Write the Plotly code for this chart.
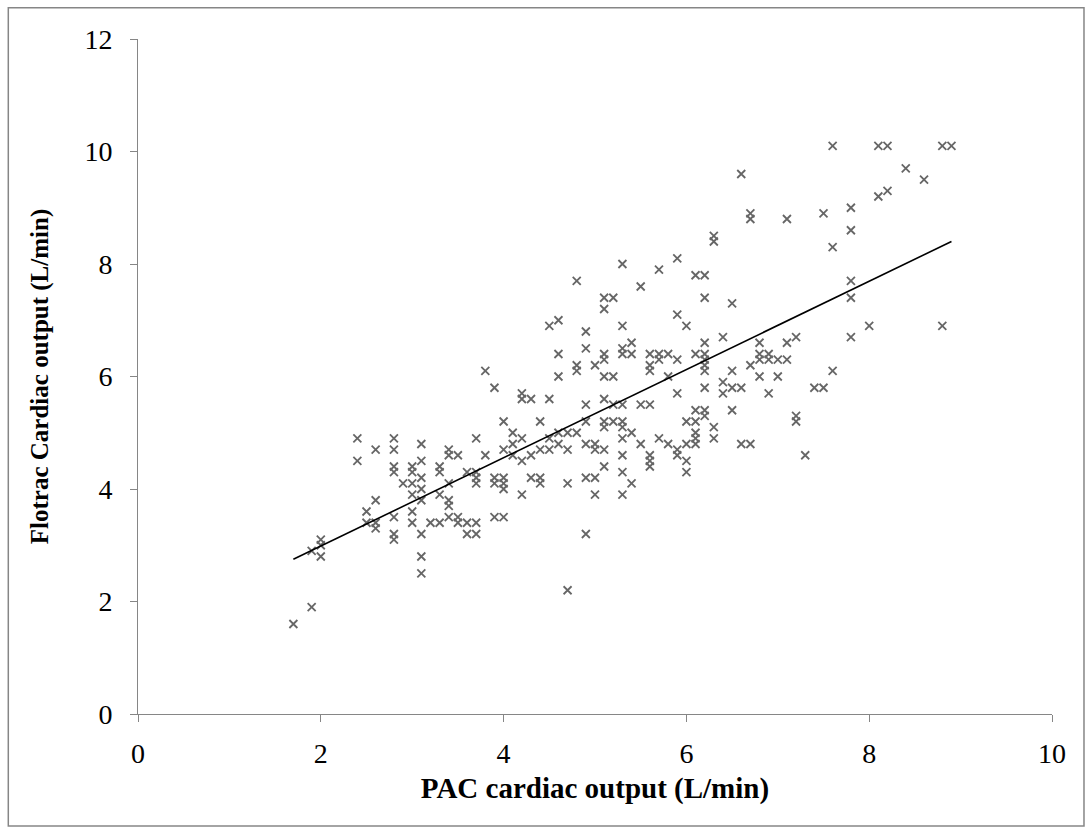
import numpy as np
import plotly.graph_objects as go

# PAC cardiac output (x) -> list of Flotrac values (y) at that x
pac_values = [1.7, 1.9, 2.0, 2.4, 2.5, 2.6, 2.8, 2.9, 3.0, 3.1, 3.2, 3.3, 3.4, 3.5, 3.6, 3.7,
              3.8, 3.9, 4.0, 4.1, 4.2, 4.3, 4.4, 4.5, 4.6, 4.7, 4.8, 4.9, 5.0, 5.1, 5.2, 5.3,
              5.4, 5.5, 5.6, 5.7, 5.8, 5.9, 6.0, 6.1, 6.2, 6.3, 6.4, 6.5, 6.6, 6.7, 6.8, 6.9,
              7.0, 7.1, 7.2, 7.3, 7.4, 7.5, 7.6, 7.8, 8.0, 8.1, 8.2, 8.4, 8.6, 8.8, 8.9]
flotrac_values = [
    [1.6],
    [2.9, 1.9],
    [3.1, 3.0, 2.8],
    [4.9, 4.5],
    [3.6, 3.4],
    [4.7, 3.8, 3.4, 3.3],
    [4.9, 4.7, 4.4, 4.3, 3.5, 3.2, 3.1],
    [4.1],
    [4.4, 4.3, 4.1, 3.9, 3.6, 3.4],
    [4.8, 4.5, 4.2, 4.0, 3.8, 3.2, 2.8, 2.5],
    [3.4],
    [4.4, 4.3, 3.9, 3.4],
    [4.7, 4.6, 4.1, 3.8, 3.7, 3.5],
    [4.6, 3.5, 3.4],
    [4.3, 3.4, 3.2],
    [4.9, 4.3, 4.2, 4.1, 3.4, 3.2],
    [6.1, 4.6],
    [5.8, 4.2, 4.1, 3.5],
    [5.2, 4.7, 4.2, 4.1, 4.0, 3.5],
    [5.0, 4.8, 4.6],
    [5.7, 5.6, 4.9, 4.5, 3.9],
    [5.6, 4.6, 4.2],
    [5.2, 4.7, 4.2, 4.1],
    [6.9, 5.6, 4.9, 4.7],
    [7.0, 6.4, 6.0, 5.0, 4.8],
    [5.0, 4.7, 4.1, 2.2],
    [7.7, 6.2, 6.1, 5.0],
    [6.8, 6.5, 5.5, 5.2, 4.8, 4.2, 3.2],
    [6.2, 4.8, 4.7, 4.2, 3.9],
    [7.4, 7.2, 6.4, 6.3, 6.0, 5.6, 5.2, 5.1, 4.7, 4.4],
    [7.4, 6.0, 5.5, 5.2],
    [8.0, 6.9, 6.5, 6.4, 5.5, 5.2, 5.1, 4.9, 4.6, 4.3, 3.9],
    [6.6, 6.4, 5.0, 4.1],
    [7.6, 5.5, 4.8],
    [6.4, 6.2, 6.1, 5.5, 4.6, 4.5, 4.4],
    [7.9, 6.4, 6.3, 4.9],
    [6.4, 6.0, 4.8],
    [8.1, 7.1, 6.3, 5.7, 4.7, 4.6],
    [6.9, 5.2, 4.8, 4.5, 4.3],
    [7.8, 6.4, 5.4, 5.2, 5.0, 4.9, 4.8],
    [7.8, 7.4, 6.6, 6.4, 6.3, 6.2, 6.1, 5.8, 5.4, 5.3],
    [8.5, 8.4, 5.1, 4.9],
    [6.7, 5.9, 5.7],
    [7.3, 6.1, 5.8, 5.4],
    [9.6, 5.8, 4.8],
    [8.9, 8.8, 6.2, 4.8],
    [6.6, 6.4, 6.3, 6.0],
    [6.4, 6.3, 5.7],
    [6.3, 6.0],
    [8.8, 6.6, 6.3],
    [6.7, 5.3, 5.2],
    [4.6],
    [5.8],
    [8.9, 5.8],
    [10.1, 8.3, 6.1],
    [9.0, 8.6, 7.7, 7.4, 6.7],
    [6.9],
    [10.1, 9.2],
    [10.1, 9.3],
    [9.7],
    [9.5],
    [10.1, 6.9],
    [10.1],
]

# Linear trendline as drawn in the reference (end points)
trend_x = [1.7, 8.9]
trend_y = [2.75, 8.4]

x_ticks = [0, 2, 4, 6, 8, 10]
y_ticks = [0, 2, 4, 6, 8, 10, 12]
x_title = "PAC cardiac output (L/min)"
y_title = "Flotrac Cardiac output (L/min)"

xs, ys = [], []
for xv, yl in zip(pac_values, flotrac_values):
    for yv in yl:
        xs.append(xv)
        ys.append(yv)

fig = go.Figure()
fig.add_trace(go.Scatter(
    x=xs, y=ys, mode="markers",
    marker=dict(symbol="x-thin-open", size=8, color="#666666",
                line=dict(color="#666666", width=1.8)),
    showlegend=False, hoverinfo="x+y"))
fig.add_trace(go.Scatter(
    x=trend_x, y=trend_y, mode="lines",
    line=dict(color="black", width=1.6),
    showlegend=False, hoverinfo="skip"))

font_family = "Liberation Serif, Times New Roman, serif"
axis_common = dict(
    showgrid=False, zeroline=False, showline=True, linecolor="#868686", linewidth=1,
    ticks="outside", ticklen=7, tickcolor="#868686", tickwidth=1,
    tickfont=dict(family=font_family, size=28, color="black"),
)
fig.update_xaxes(range=[0, 10], tickvals=x_ticks, ticktext=[str(t) for t in x_ticks],
                 title=dict(text="<b>" + x_title + "</b>", standoff=10,
                            font=dict(family=font_family, size=29, color="black")),
                 ticklabelstandoff=7, **axis_common)
fig.update_yaxes(range=[0, 12], tickvals=y_ticks, ticktext=[str(t) for t in y_ticks],
                 title=dict(text="<b>" + y_title + "</b>", standoff=28,
                            font=dict(family=font_family, size=25, color="black")),
                 ticklabelstandoff=12, **axis_common)

fig.update_layout(
    width=1092, height=834,
    margin=dict(l=138, r=40, t=39, b=120),
    paper_bgcolor="white", plot_bgcolor="white",
    font=dict(family=font_family, color="black"),
    shapes=[dict(type="rect", xref="paper", yref="paper",
                 x0=-0.1419, x1=1.035, y0=-0.166, y1=1.0464,
                 line=dict(color="#868686", width=1.5), fillcolor="rgba(0,0,0,0)",
                 layer="below")],
)

fig.write_html("out.html", config={"displayModeBar": False})
